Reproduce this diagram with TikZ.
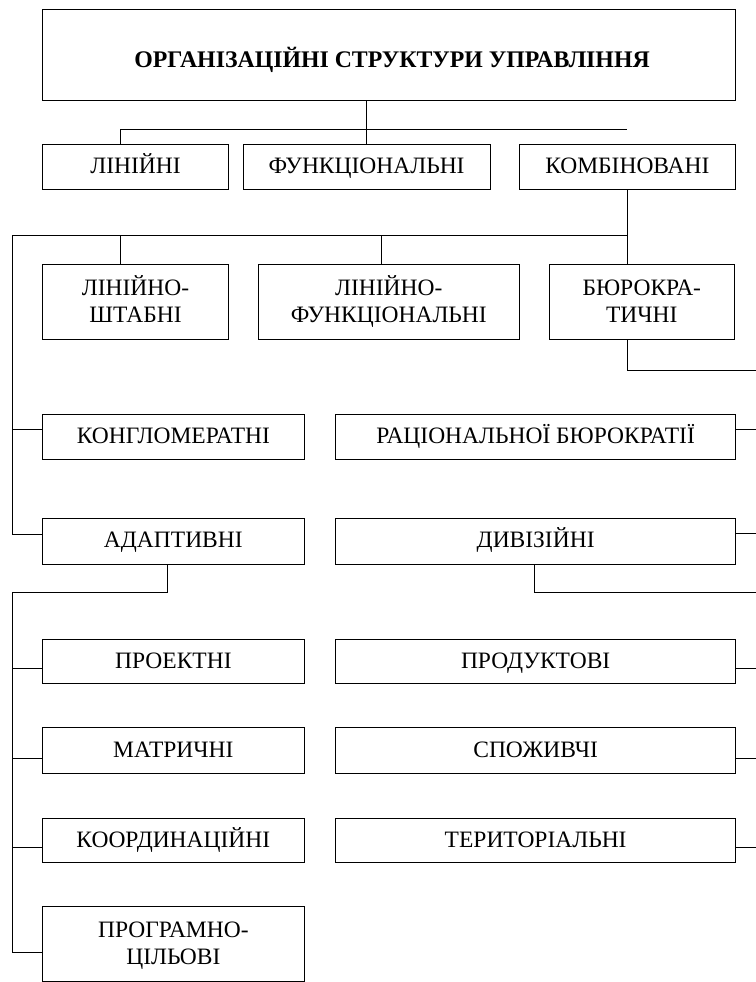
\documentclass[tikz,border=0pt]{standalone}
\usepackage{fontspec}
\setmainfont{Liberation Serif}
\begin{document}
\begin{tikzpicture}[x=1pt,y=-1pt,
  box/.style={draw, line width=1pt, rectangle, inner sep=0pt,
    font=\fontsize{23.5}{26.7}\selectfont, text height=15.6pt, text depth=2pt},
  boxtwo/.style={draw, line width=1pt, rectangle, inner sep=0pt, align=center,
    font=\fontsize{23.5}{26.7}\selectfont, text height=42.3pt, text depth=1pt},
  conn/.style={line width=1pt, line join=miter}]
\useasboundingbox (0,0) rectangle (755,982);

% title
\node[box, minimum width=693.3pt, minimum height=90pt, text height=25pt, text depth=0pt,
      font=\fontsize{23.8}{26.7}\selectfont\bfseries] (title) at (389.05,55)
      {\hspace*{6pt}ОРГАНІЗАЦІЙНІ СТРУКТУРИ УПРАВЛІННЯ};

% row 2
\node[box, minimum width=186.3pt, minimum height=45pt] (lin)  at (135.55,166.8) {ЛІНІЙНІ};
\node[box, minimum width=247pt,   minimum height=45pt] (funk) at (366.6,166.8)  {ФУНКЦІОНАЛЬНІ};
\node[box, minimum width=216.7pt, minimum height=45pt] (komb) at (627.35,166.8) {КОМБІНОВАНІ};

% row 3
\node[boxtwo, minimum width=186.3pt, minimum height=75pt] (lsh) at (135.55,301.5) {ЛІНІЙНО-\\ШТАБНІ};
\node[boxtwo, minimum width=260.5pt, minimum height=75pt] (lfu) at (388.75,301.5) {ЛІНІЙНО-\\ФУНКЦІОНАЛЬНІ};
\node[boxtwo, minimum width=185pt,   minimum height=75pt] (bur) at (641.8,301.5)  {БЮРОКРА-\\ТИЧНІ};

% left column
\node[box, minimum width=261.9pt, minimum height=45pt]   (kong) at (173.35,436.5)  {КОНГЛОМЕРАТНІ};
\node[box, minimum width=261.9pt, minimum height=45.7pt] (adap) at (173.35,541.15) {АДАПТИВНІ};
\node[box, minimum width=261.9pt, minimum height=44pt]   (proe) at (173.35,661.3)  {ПРОЕКТНІ};
\node[box, minimum width=261.9pt, minimum height=46pt]   (matr) at (173.35,750.3)  {МАТРИЧНІ};
\node[box, minimum width=261.9pt, minimum height=44pt]   (koor) at (173.35,840.3)  {КООРДИНАЦІЙНІ};
\node[boxtwo, minimum width=261.9pt, minimum height=74.3pt] (prog) at (173.35,943.85) {ПРОГРАМНО-\\ЦІЛЬОВІ};

% right column
\node[box, minimum width=400.1pt, minimum height=45pt]   (rac)  at (535.65,436.5)  {РАЦІОНАЛЬНОЇ БЮРОКРАТІЇ};
\node[box, minimum width=400.1pt, minimum height=45.7pt] (div)  at (535.65,541.15) {ДИВІЗІЙНІ};
\node[box, minimum width=400.1pt, minimum height=44pt]   (prod) at (535.65,661.3)  {ПРОДУКТОВІ};
\node[box, minimum width=400.1pt, minimum height=46pt]   (spoz) at (535.65,750.3)  {СПОЖИВЧІ};
\node[box, minimum width=400.1pt, minimum height=44pt]   (teri) at (535.65,840.3)  {ТЕРИТОРІАЛЬНІ};

% helper coordinates
\coordinate (b1) at (120.4,129.3);
\coordinate (b2) at (12.7,235);
\coordinate (b3) at (381.3,235);
\coordinate (adB) at (167.3,592.7);
\coordinate (dvB) at (534.4,592.7);
\coordinate (redge) at (756,0);
\coordinate (kongL) at ([yshift=7.2pt]kong.west);
\coordinate (adapL) at ([yshift=7.15pt]adap.west);
\coordinate (proeL) at ([yshift=-7pt]proe.west);
\coordinate (matrL) at ([yshift=-8.5pt]matr.west);
\coordinate (koorL) at ([yshift=-6.7pt]koor.west);
\coordinate (progL) at ([yshift=-8.45pt]prog.west);
\coordinate (racR)  at ([yshift=7.2pt]rac.east);
\coordinate (divR)  at ([yshift=7.65pt]div.east);
\coordinate (prodR) at ([yshift=-7pt]prod.east);
\coordinate (spozR) at ([yshift=-8.5pt]spoz.east);
\coordinate (teriR) at ([yshift=-6.7pt]teri.east);
\coordinate (burR) at (756,370);

% connectors top
\draw[conn] (title.south -| funk.north) -- (funk.north);
\draw[conn] (b1 |- lin.north) -- (b1) -- (b1 -| komb.north);
\draw[conn] (komb.south) -- (bur.north -| komb.south);
\draw[conn] (b2 -| komb.south) -- (b2) -- (b2 |- adapL) -- (adapL);
\draw[conn] (b2 -| b1) -- (b1 |- lsh.north);
\draw[conn] (b3) -- (b3 |- lfu.north);
\draw[conn] (b2 |- kongL) -- (kongL);
\draw[conn] (bur.south -| komb.south) -- (burR -| komb.south) -- (burR);

% adaptive branch
\draw[conn] (adB |- adap.south) -- (adB) -- (adB -| b2) -- (b2 |- progL) -- (progL);
\draw[conn] (b2 |- proeL) -- (proeL);
\draw[conn] (b2 |- matrL) -- (matrL);
\draw[conn] (b2 |- koorL) -- (koorL);

% divisional branch and right stubs
\draw[conn] (dvB |- div.south) -- (dvB) -- (dvB -| redge);
\draw[conn] (racR) -- (racR -| redge);
\draw[conn] (divR) -- (divR -| redge);
\draw[conn] (prodR) -- (prodR -| redge);
\draw[conn] (spozR) -- (spozR -| redge);
\draw[conn] (teriR) -- (teriR -| redge);
\end{tikzpicture}
\end{document}
